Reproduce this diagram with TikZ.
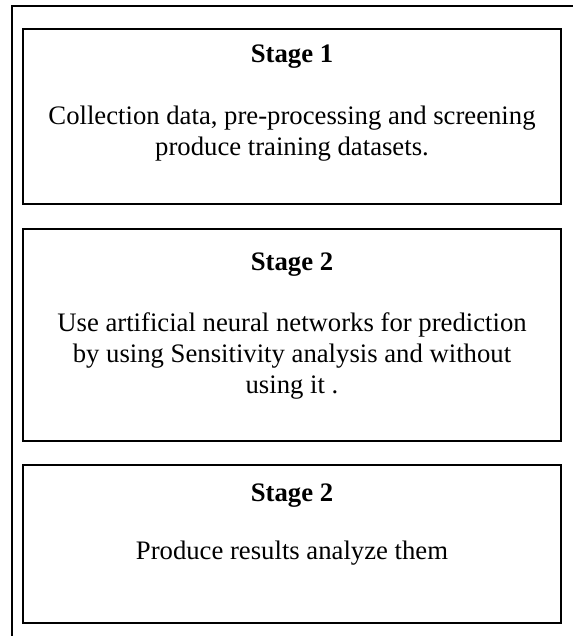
\documentclass[tikz,border=0pt]{standalone}
\usepackage{fontspec}
\setmainfont{Liberation Serif}
\begin{document}
\begin{tikzpicture}[x=1pt,y=1pt,
  frame/.style={line width=1.6pt,black},
  stagebox/.style={draw=black,line width=1.4pt},
  title/.style={anchor=base,font=\fontsize{26.7}{30.7}\selectfont\bfseries},
  body/.style={anchor=base,font=\fontsize{26.7}{30.7}\selectfont}]
\useasboundingbox (0,0) rectangle (573,-636);
% outer frame
\coordinate (fA) at (12,-636);
\coordinate (fB) at (12,-6);
\coordinate (fC) at (573,-6);
\draw[frame] (fA) -- (fB) -- (fC);
% boxes
\draw[stagebox] (23,-29) rectangle (561,-204);
\draw[stagebox] (23,-229) rectangle (561,-441);
\draw[stagebox] (23,-465) rectangle (561,-623);
% box 1
\node[title] (t1) at (292,-63) {Stage 1};
\node[body] (b1a) at (292,-125) {Collection data, pre-processing and screening};
\node[body] (b1b) at (292,-156) {produce training datasets.};
% box 2
\node[title] (t2) at (292,-270) {Stage 2};
\node[body] (b2a) at (292,-331) {Use artificial neural networks for prediction};
\node[body] (b2b) at (292,-362) {by using Sensitivity analysis and without};
\node[body] (b2c) at (292,-393) {using it .};
% box 3
\node[title] (t3) at (292,-501) {Stage 2};
\node[body] (b3) at (292,-559) {Produce results analyze them};
\end{tikzpicture}
\end{document}
